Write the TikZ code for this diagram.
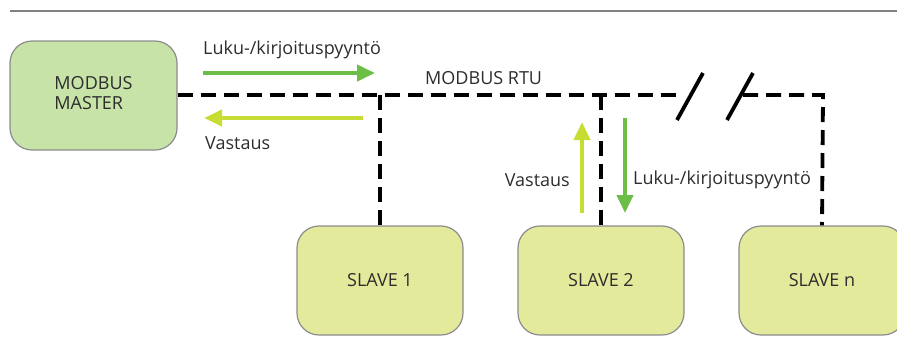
\documentclass[tikz,border=0pt]{standalone}
\usepackage{fontspec}
\setmainfont{Open Sans}
\usetikzlibrary{arrows.meta}
\definecolor{masterfill}{RGB}{199,227,168}
\definecolor{slavefill}{RGB}{228,234,155}
\definecolor{boxline}{RGB}{140,140,140}
\definecolor{reqgreen}{RGB}{108,190,70}
\definecolor{respyellow}{RGB}{200,221,52}
\definecolor{txt}{RGB}{45,45,45}
\tikzset{
  x=1pt, y=-1pt,
  unitbox/.style={draw=boxline, line width=1.2pt, rounded corners=22pt,
    minimum width=166pt, minimum height=109pt, inner sep=0pt,
    text=txt, font=\fontsize{18}{20}\selectfont},
  masterbox/.style={unitbox, fill=masterfill, minimum width=167pt, align=left},
  slavebox/.style={unitbox, fill=slavefill},
  bus/.style={line width=3.8pt, dash pattern=on 15pt off 8pt},
  breakmark/.style={line width=3.8pt},
  flow/.style={line width=4pt, -{Triangle[length=18pt,width=16pt]}},
  request/.style={flow, draw=reqgreen},
  response/.style={flow, draw=respyellow},
  lbl/.style={text=txt, inner sep=0pt, font=\fontsize{18}{20}\selectfont},
}
\begin{document}
\begin{tikzpicture}
\useasboundingbox (0,0) rectangle (897,360);
\clip (0,0) rectangle (897,360);

% header rule
\draw[line width=2pt, draw=gray] (10,11) -- (897,11);

% devices
\node[masterbox] (master) at (93.5,95.5) {\raisebox{3pt}{\begin{tabular}{@{}l@{}}MODBUS\\MASTER\end{tabular}}};
\node[slavebox] (s1) at (380,280.5) {SLAVE 1};
\node[slavebox] (s2) at (601,280.5) {SLAVE 2};
\node[slavebox] (sn) at (822,280.5) {SLAVE n};

% bus geometry
\coordinate (brA) at (683,95);
\coordinate (brB) at (743,95);
\coordinate (corner) at (823,95);
\coordinate (tap1) at (380,95);
\coordinate (tap2) at (601,95);

% RTU bus with drops to each slave
\draw[bus] (master.east |- brA) -- (brA);
\draw[bus] (brB) -- (corner) -- (sn.north);
\draw[bus] (tap1) -- (s1.north);
\draw[bus] (tap2) -- (s2.north);

% break marks on the bus
\coordinate (k1a) at (677,120); \coordinate (k1b) at (703,73);
\coordinate (k2a) at (727,120); \coordinate (k2b) at (753,73);
\draw[breakmark] (k1a) -- (k1b);
\draw[breakmark] (k2a) -- (k2b);

% request / response flows at the master
\coordinate (rq1) at (203,73); \coordinate (rq2) at (375,73);
\coordinate (rs1) at (363,118); \coordinate (rs2) at (204,118);
\draw[request] (rq1) -- (rq2);
\draw[response] (rs1) -- (rs2);

% request / response flows at slave 2
\coordinate (up1) at (582,213); \coordinate (up2) at (582,122);
\coordinate (dn1) at (625,118); \coordinate (dn2) at (625,213);
\draw[response] (up1) -- (up2);
\draw[request] (dn1) -- (dn2);

% labels
\node[lbl, anchor=west] (lreq) at (203,50) {Luku-/kirjoituspyyntö};
\node[lbl, anchor=west] (lresp) at (205,143) {Vastaus};
\node[lbl, anchor=west] (lrtu) at (425,78) {MODBUS RTU};
\node[lbl, anchor=east] (lresp2) at (570,180) {Vastaus};
\node[lbl, anchor=west] (lreq2) at (633,180) {Luku-/kirjoituspyyntö};
\end{tikzpicture}
\end{document}
